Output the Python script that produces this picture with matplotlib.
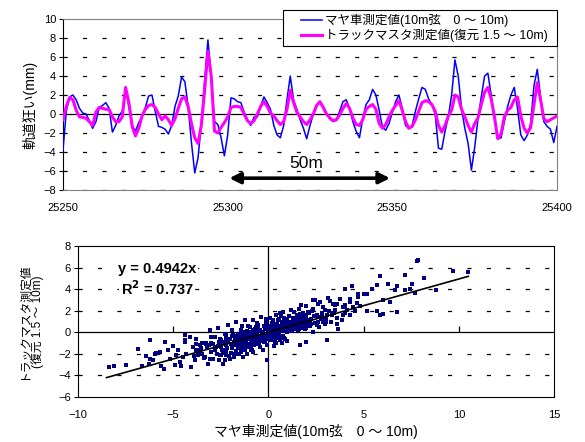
import matplotlib
matplotlib.use("Agg")
import matplotlib.pyplot as plt
from matplotlib.patches import Rectangle

plt.rcParams['font.family'] = ['Liberation Sans', 'Noto Sans CJK JP', 'DejaVu Sans']
plt.rcParams['lines.scale_dashes'] = False

# --- top chart: track irregularity along the line (1 m steps) ---
km_start = 25250
maya = [-3.8, 0.3, 1.8, 2.0, 1.5, 0.6, 0.1, 0.0, -0.7, -1.5,
        -0.8, 0.7, 0.9, 1.2, 0.6, -1.9, -1.2, -0.2, 0.3, 2.7,
        0.8, -1.2, -1.8, -0.9, -0.3, 0.7, 1.9, 2.0, 0.3, -1.3,
        -1.4, -1.6, -2.1, -1.2, 0.8, 1.9, 3.9, 3.4, 0.8, -3.0,
        -6.2, -4.6, -1.0, 3.5, 7.8, 4.0, -0.8, -1.1, -2.5, -4.4,
        -2.2, 1.7, 1.6, 1.3, 1.2, 0.2, -0.6, -1.2, -0.3, -0.3,
        0.8, 1.8, 1.2, 0.5, -1.2, -2.2, -2.5, -1.2, 1.5, 4.0,
        1.5, 0.5, -0.6, -1.5, -2.6, -1.2, 0.0, 0.9, 1.3, 0.8,
        0.1, -0.5, -0.8, -0.6, 0.3, 1.3, 1.5, 0.6, -0.8, -1.8,
        -2.5, -0.5, 1.0, 1.5, 2.6, 2.0, 0.4, -1.4, -1.7, -1.0,
        0.2, 1.3, 2.0, 0.6, -1.2, -1.5, -1.2, 0.3, 1.6, 2.8,
        2.6, 1.6, 1.0, 0.0, -3.6, -3.7, -1.8, -0.3, 2.0, 5.7,
        4.0, 0.6, -1.5, -3.1, -5.9, -3.5, -0.5, 1.8, 4.0, 4.3,
        2.0, -0.4, -2.6, -2.5, -0.8, 0.8, 2.0, 2.8, 0.6, -2.2,
        -2.8, -2.2, -1.0, 3.0, 4.7, 1.8, -0.8, -1.3, -1.6, -3.0,
        -1.3]
master = [-0.6, 0.8, 1.75, 1.5, 0.4, -0.3, -0.35, -0.45, -0.8, -1.2,
          0.2, 0.7, 0.6, 0.5, 0.5, -0.3, -0.8, -0.8, -0.3, 2.8,
          1.2, -1.3, -2.3, -1.5, -0.2, 0.5, 0.9, 1.0, 0.7, 0.0,
          -0.6, -0.2, -0.6, -1.2, -0.5, 0.6, 1.6, 1.8, 0.8, -1.0,
          -2.5, -3.1, -1.2, 2.5, 6.6, 4.0, -1.8, -2.0, -1.4, -0.9,
          -0.3, 0.7, 0.8, 0.8, 0.7, 0.0, -0.7, -1.0, -0.7, 0.0,
          0.8, 1.3, 0.8, 0.1, -0.2, -0.7, -1.1, -0.8, 0.5, 2.5,
          1.2, 0.2, -0.3, -0.8, -1.1, -0.6, 0.0, 0.9, 1.3, 0.7,
          0.0, -0.4, -0.7, -0.6, -0.1, 0.6, 1.1, 0.6, -0.4, -1.1,
          -1.2, -0.6, 0.5, 0.8, 1.0, 0.5, -1.0, -1.5, -1.1, -0.3,
          0.4, 0.9, 1.4, 0.4, -0.8, -1.5, -1.3, -0.6, 0.3, 1.2,
          1.4, 1.3, 1.0, 0.3, -1.2, -1.9, -1.2, -0.2, 0.4, 2.0,
          1.8, 0.5, -0.3, -1.2, -1.9, -1.0, -0.4, 1.0, 2.3, 2.8,
          1.6, -0.3, -2.6, -2.1, -0.3, 0.4, 0.7, 1.5, 1.8, -0.2,
          -1.5, -2.0, -1.4, 1.0, 3.3, 1.5, -0.5, -0.8, -0.6, -0.4,
          -0.2]
km = [km_start + i for i in range(len(maya))]

label_maya = 'マヤ車測定値(10m弦　0 ～ 10m)'
label_master = 'トラックマスタ測定値(復元 1.5 ～ 10m)'

# --- bottom chart: scatter of the two measurements ---
extra_x = [-8.39, -8.11, -7.46, -6.85, -6.64, -6.45, -6.24, -6.27, -6.06, -5.94,
           -5.71, -5.66, -5.48, -5.41, -5.27, -5.19, -5.01, -4.92, -4.84, -4.75,
           -4.66, -4.49, -4.40, -4.36, -4.31, -4.14, -4.05, -3.96, -3.87, -3.78,
           -3.70, -3.52, -3.35, -3.26, -3.17, -3.08, -3.00, -2.91, -2.82, -2.73,
           -2.65, -2.56, -2.47, -2.38, -2.30, -2.21, -2.12, -2.03, -1.95, -1.86,
           -1.77, -1.68, -1.60, -1.51, -1.42, -1.33, -1.25, -1.16, -1.07, -0.98,
           -0.90, -0.81, -0.72, -0.63, -0.55, -0.46, -0.37, -0.28, -0.19, -0.11,
           -0.06, 0.07, 0.15, 0.33, 0.50, 0.60, 0.77, 0.94, 1.20, 1.38,
           1.55, 1.73, 1.90, 2.08, 2.25, 2.43,
           7.87, 9.71, 10.50, 7.17, 8.19, 5.86, 6.30, 6.74, 7.52, 7.44,
           8.80, 7.70, 7.17, 6.63, 5.70, 5.43, 5.17, 5.00, 4.72, 4.37,
           6.03, 6.38, 6.77, 6.03, 5.84, 5.17, 4.55, 4.29, 3.94, 3.76,
           3.59, 3.15, 3.24, 2.45, 2.36, 4.29, 3.50, 3.59, 3.67, 3.06,
           2.36, 1.98, 1.66, 3.94, 4.64, 3.85, 2.71, 2.97, 3.32, 4.11,
           4.46, 4.81, 2.89, 2.19, 1.84, 2.54, 3.41]
extra_y = [-3.2, -3.15, -3.0, -1.57, -3.15, -2.2, -0.74, -2.9, -2.6, -2.0,
           -1.8, -3.1, -3.36, -0.9, -1.67, -2.44, -1.3, -3.05, -2.13, -1.67,
           -2.75, -2.28, -0.74, -0.28, -1.98, -0.43, -3.2, -1.36, -2.6, -1.67,
           -2.13, -1.5, -2.28, -1.05, -2.9, 0.19, -1.8, -2.44, -0.43, -1.36,
           0.43, -2.13, -0.74, -2.9, -0.12, -1.67, 0.65, -2.44, -1.05, -0.28,
           -1.98, 0.96, -0.74, -1.36, 0.19, -2.28, 1.11, -0.43, -1.05, 0.49,
           -1.67, 1.11, -0.28, -0.9, 0.65, -1.36, 1.42, 0.03, -0.59, 0.80,
           -2.6, 1.36, -0.12, 0.49, 1.11, -0.74, 1.88, 0.19, 2.04, 0.80,
           1.42, 2.5, 1.11, 1.88, 0.80, 2.96,
           6.67, 5.68, 5.59, 5.31, 5.03, 5.19, 4.44, 4.29, 4.51, 3.98,
           3.89, 3.67, 3.95, 3.89, 4.35, 4.04, 3.52, 3.58, 3.52, 4.26,
           2.96, 2.78, 1.88, 1.67, 1.57, 1.98, 1.98, 1.57, 1.57, 3.12,
           2.65, 3.21, 2.87, 3.02, 2.96, 3.12, 2.04, 0.80, 0.34, -0.74,
           0.03, -0.9, -1.2, 2.35, 2.72, 1.11, 1.42, 2.04, 1.57, 2.1,
           2.35, 2.41, 0.96, 1.11, 1.73, 0.65, 2.65]
core_x = [-2.8, -2.6, -2.4, -2.2, -2.0, -1.9, -1.8, -1.7, -1.6, -1.5,
          -1.4, -1.3, -1.2, -1.1, -1.0, -0.9, -0.8, -0.7, -0.6, -0.5,
          -0.4, -0.3, -0.2, -0.1, 0.0, 0.1, 0.2, 0.3, 0.4, 0.5,
          0.6, 0.7, 0.8, 0.9, 1.0, 1.1, 1.2, 1.3, 1.4, 1.5,
          1.6, 1.7, 1.8, 1.9, 2.0, 2.2, 2.4, 2.6, 2.8, 3.0,
          -2.5, -1.25, -0.35, 0.45, 1.05, 1.65, -3.2, -3.5, -0.05, 0.25,
          -0.65, -1.55, 0.85, 2.3, 1.35, -2.05, -0.15, 0.65, -1.05, 0.35,
          -2.9, -2.7, -2.65, -2.55, -2.45, -2.35, -2.25, -2.15, -2.1, -1.95,
          -1.85, -1.75, -1.72, -1.62, -1.58, -1.48, -1.45, -1.38, -1.32, -1.28,
          -1.22, -1.18, -1.12, -1.08, -1.02, -0.98, -0.95, -0.92, -0.88, -0.85,
          -0.82, -0.78, -0.75, -0.72, -0.68, -0.62, -0.58, -0.55, -0.52, -0.48,
          -0.45, -0.42, -0.38, -0.33, -0.28, -0.25, -0.22, -0.18, -0.12, -0.08,
          -0.04, 0.02, 0.05, 0.08, 0.12, 0.15, 0.18, 0.22, 0.27, 0.32,
          0.36, 0.42, 0.46, 0.52, 0.55, 0.58, 0.62, 0.68, 0.72, 0.75,
          0.78, 0.82, 0.88, 0.92, 0.96, 1.02, 1.08, 1.12, 1.18, 1.22,
          1.28, 1.32, 1.38, 1.42, 1.48, 1.52, 1.58, 1.62, 1.68, 1.72,
          1.78, 1.85, 1.92, 1.98, 2.05, 2.12, 2.18, 2.25, 2.35, 2.45,
          2.55, 2.65, 2.75, 2.85, 2.95, 3.1, 3.2, 3.3, 3.45, 3.6,
          -3.3, -3.4, -3.6, -3.8, -3.9, -3.05, -2.95, -0.3, 0.4, -1.9,
          1.0, -0.1, 0.7, 2.0, -2.3, 1.6, -0.6, 0.3, -1.4, 2.6]
core_y = [-1.6, -0.9, -1.9, -1.2, -0.6, -1.5, -0.9, -0.3, -1.2, -0.5,
          -1.0, -0.2, -0.8, -1.4, -0.3, -0.7, 0.1, -1.0, -0.4, 0.2,
          -0.6, -0.1, 0.4, -0.3, 0.2, -0.4, 0.5, 0.0, 0.7, -0.2,
          0.3, 0.9, 0.1, 0.6, 1.2, 0.2, 0.8, 0.4, 1.1, 0.5,
          1.4, 0.7, 1.0, 0.3, 1.3, 0.8, 1.5, 1.0, 1.8, 1.2,
          -1.4, -0.55, -0.2, 0.15, 0.45, 0.9, -1.5, -2.0, -1.2, 1.1,
          0.5, -2.0, -0.6, 2.0, 1.9, -2.2, 0.9, 1.5, 0.6, -0.9,
          -1.1, -2.0, -1.3, -0.6, -1.6, -0.9, -2.1, -1.5, -0.8, -1.9,
          -1.2, -0.5, -1.7, -0.9, -1.5, -0.2, -1.8, -0.7, -1.3, -0.4,
          -1.6, -0.9, 0.1, -1.1, -0.6, -1.3, 0.0, -0.9, -0.4, -1.6,
          -0.2, -0.8, -1.2, 0.3, -0.5, -1.1, -0.1, -0.7, 0.5, -1.0,
          -0.3, 0.2, -0.8, 0.0, -0.5, 0.6, -0.9, -0.2, 0.3, -0.6,
          0.1, -0.4, 0.6, -0.1, 0.3, -0.7, 0.9, 0.1, -0.3, 0.5,
          0.2, -0.5, 0.8, 0.3, 1.2, -0.1, 0.6, 0.2, 1.0, -0.3,
          0.5, 1.3, 0.3, 0.9, 0.0, 0.7, 1.5, 0.4, 1.0, 0.1,
          0.7, 1.3, 0.3, 0.9, 1.6, 0.6, 0.2, 1.1, 1.7, 0.4,
          1.3, 0.8, 1.6, 0.5, 1.0, 1.8, 0.6, 1.2, 2.2, 0.9,
          1.6, 0.5, 1.3, 2.3, 0.8, 1.6, 2.0, 1.0, 1.8, 1.3,
          -1.0, -2.4, -1.6, -1.1, -2.2, -2.5, -0.4, -1.6, 1.6, 0.2,
          -0.8, 1.2, -1.0, 2.4, -2.6, 2.2, 0.9, -1.3, 0.6, 2.6]
scatter_x = maya + extra_x + core_x
scatter_y = master + extra_y + core_y

slope = 0.4942
r2 = 0.737
fit_x = [-8.5, 10.5]

fig = plt.figure(figsize=(5.85, 4.42), dpi=100)

# ================= top chart =================
ax1 = fig.add_axes([0.1077, 0.570, 0.8445, 0.387])
for v in [-8, -6, -4, -2, 2, 4, 6, 8]:
    ax1.axhline(v, color='black', lw=0.9, dashes=(3, 11), zorder=1)
ax1.axhline(0, color='black', lw=0.9, zorder=1)
line_maya, = ax1.plot(km, maya, color='#0000FF', lw=1.1, zorder=3)
line_master, = ax1.plot(km, master, color='#FF00FF', lw=2.2, zorder=4)
ax1.set_xlim(25250, 25400)
ax1.set_ylim(-8, 10)
ax1.set_xticks([25250, 25300, 25350, 25400])
ax1.set_yticks(range(-8, 11, 2))
ax1.tick_params(axis='x', length=0, labelsize=8, pad=9)
ax1.tick_params(axis='y', length=3, labelsize=8, direction='out', pad=2)
for s in ['top', 'right', 'bottom']:
    ax1.spines[s].set_color('#808080')
ax1.spines['left'].set_color('black')
ax1.set_ylabel('軌道狂い(mm)', fontsize=10, labelpad=4)

ax1.annotate('', xy=(25300.5, -6.75), xytext=(25349.3, -6.75),
             arrowprops=dict(arrowstyle='<|-|>', color='black', lw=2.6,
                             mutation_scale=16, shrinkA=0, shrinkB=0), zorder=5)
ax1.text(25323.8, -5.2, '50m', fontsize=12.5, ha='center', va='center', zorder=5)

# legend box (white, sits partly above the plot area)
fig.patches.append(Rectangle((283 / 585, 1 - 46 / 442), 274 / 585, 36 / 442,
                             transform=fig.transFigure, facecolor='white',
                             edgecolor='black', lw=0.8, zorder=8))
leg = fig.legend([line_maya, line_master], [label_maya, label_master],
                 loc='center left', bbox_to_anchor=(301 / 585, 1 - 28 / 442),
                 fontsize=9, frameon=False, handlelength=1.65,
                 handletextpad=0.3, labelspacing=0.15, borderpad=0,
                 borderaxespad=0)
leg.set_zorder(9)

# ================= bottom chart =================
ax2 = fig.add_axes([0.1333, 0.1018, 0.8137, 0.3416])
for v in [-4, -2, 2, 4, 6]:
    ax2.axhline(v, color='black', lw=0.9, dashes=(3, 11), zorder=1)
ax2.axhline(0, color='black', lw=0.9, zorder=1)
ax2.axvline(0, color='black', lw=0.9, zorder=1)
ax2.plot([-5, 5, 10], [0, 0, 0], linestyle='none', marker=2, markersize=4,
         color='black', mew=0.9, zorder=1)
ax2.scatter(scatter_x, scatter_y, s=5, marker='s', color='#000080',
            linewidths=0, zorder=3)
ax2.plot(fit_x, [slope * v for v in fit_x], color='black', lw=1.2, zorder=4)
ax2.set_xlim(-10, 15)
ax2.set_ylim(-6, 8)
ax2.set_xticks(range(-10, 16, 5))
ax2.set_yticks(range(-6, 9, 2))
ax2.tick_params(axis='x', length=0, labelsize=8, pad=9)
ax2.tick_params(axis='y', length=3, labelsize=8, direction='out', pad=2)
for s in ax2.spines.values():
    s.set_color('black')
ax2.set_xlabel(label_maya, fontsize=10, labelpad=3)
ax2.set_ylabel('トラックマスタ測定値\n(復元 1.5 ～ 10m)', fontsize=8.5,
               labelpad=10, linespacing=1.15)
eq_box = dict(facecolor='white', edgecolor='none', pad=1)
ax2.text(-5.85, 5.9, 'y = %.4fx' % slope, fontsize=10.5, fontweight='bold',
         ha='center', va='center', bbox=eq_box, zorder=5)
ax2.text(-5.85, 4.05, 'R$^{\\mathbf{2}}$ = %.3f' % r2, fontsize=10.5,
         fontweight='bold', ha='center', va='center', bbox=eq_box, zorder=5)

fig.savefig('out.png', dpi=100)
